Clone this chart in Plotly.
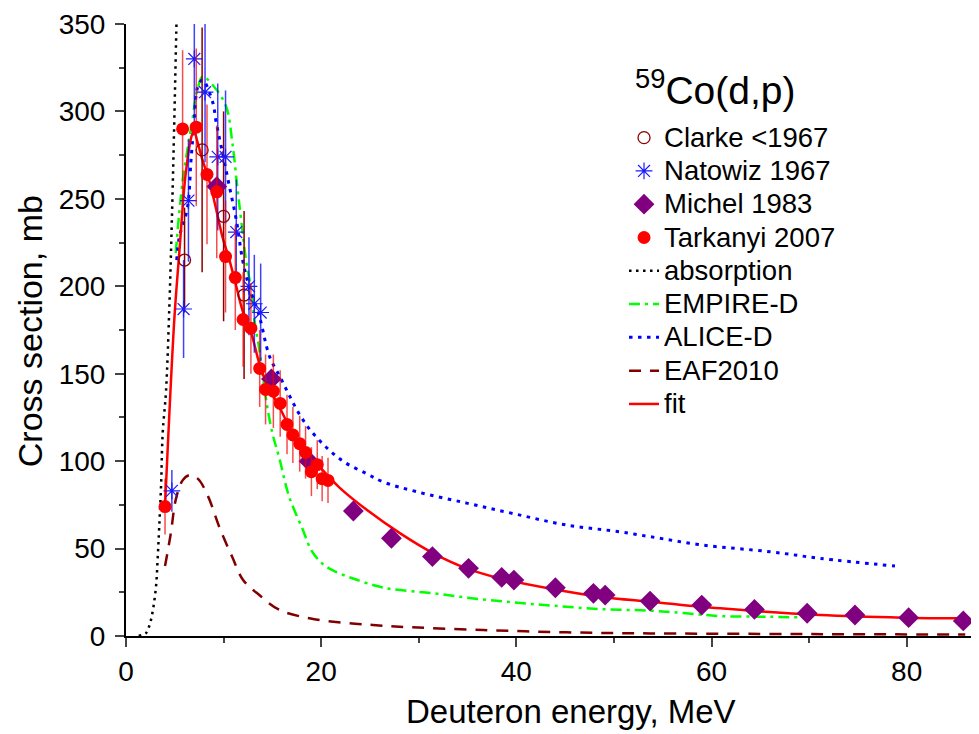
import plotly.graph_objects as go

# ---------------- data ----------------
clarke_E = [6.0, 7.8, 10.0, 12.1]
clarke_s = [215, 278, 240, 195]
clarke_err = [30, 70, 60, 48]

natowiz_E = [4.7, 5.9, 6.4, 7.0, 8.1, 9.4, 10.2, 11.3, 12.6, 13.15, 13.8]
natowiz_s = [83, 187, 249, 330, 311, 274, 274, 231, 200, 190, 185]
natowiz_err = [12, 28, 35, 40, 40, 42, 38, 30, 28, 28, 28]

michel_E = [9.3, 14.9, 18.75, 23.3, 27.2, 31.4, 35.1, 38.5, 39.75, 44.0, 47.9, 49.1,
            53.7, 59.0, 64.4, 69.8, 74.7, 80.2, 85.8]
michel_s = [257, 147, 100, 71.5, 55.9, 45.4, 38.7, 33.5, 32, 27.6, 24.4, 23.4,
            20.0, 17.7, 15.2, 13.0, 12.0, 10.5, 8.6]

tark_E = [4.0, 5.8, 7.2, 8.3, 9.3, 10.2, 11.2, 12.0, 12.8, 13.7, 14.3, 15.1, 15.8,
          16.5, 17.1, 17.8, 18.4, 19.0, 19.6, 20.1, 20.7]
tark_s = [74, 290, 291, 264, 254, 217, 205, 181, 176, 153, 141, 140, 133,
          121, 115, 110, 105, 94, 98, 90, 89]
tark_err = [16, 45, 45, 40, 38, 32, 30, 27, 26, 22, 20, 21, 19,
            17, 16, 16, 15, 14, 14, 13, 13]

abs_E = [1.3, 2.05, 2.4, 2.7, 3.07, 3.25, 3.4, 3.6, 3.76, 4.1, 4.44, 4.7, 4.95, 5.15, 5.3]
abs_s = [0, 1.7, 6, 13, 28, 45, 62, 87, 116, 140, 188, 238, 295, 345, 380]

emp_E = [5.1, 5.8, 6.8, 7.3, 7.85, 8.9, 10.25, 10.9, 11.4, 11.8, 12.3, 12.9, 13.15,
         13.66, 14.3, 15.0, 15.7, 16.7, 18.1, 19.0, 20.0, 21.2, 23.2, 25.4, 27.0, 31.5,
         35.6, 39.7, 43.8, 48.6, 53.7, 57.4, 60.9, 66.0, 70.3]
emp_s = [219, 260, 295, 312, 320, 315, 303, 282, 257, 238, 215, 196, 181,
         164, 137, 116, 102, 80, 61, 49, 42, 37.5, 33, 29, 27, 24.4,
         21.5, 19.2, 17.3, 15.4, 14.5, 13, 11.4, 11, 10.5]

ali_E = [5.2, 5.46, 6.3, 6.66, 7.0, 7.35, 7.85, 8.9, 9.2, 9.9, 10.6, 11.3, 11.95,
         12.6, 13.66, 14.7, 15.8, 16.7, 17.75, 19.0, 20.7, 22.5, 24.6, 26.4, 29.8,
         34.9, 39.7, 45.1, 50.6, 53.7, 59.1, 66.0, 71.1, 78.8]
ali_s = [215, 228, 245, 272, 295, 314, 318, 305, 295, 276, 257, 238, 215,
         200, 183, 160, 148, 138, 127, 117, 107, 99, 93, 88, 82.5,
         76, 70, 63.5, 59.6, 56.8, 52, 48.2, 44.4, 40]

eaf_E = [4.0, 4.6, 5.1, 5.8, 6.5, 7.35, 8.4, 9.55, 10.9, 12.0, 13.66, 15.7, 18.8,
         22.2, 25.3, 28.0, 36.6, 45.1, 53.7, 65.0, 75.0, 86.0]
eaf_s = [40, 59, 78, 89, 92, 90, 80, 62.5, 45, 32, 23.4, 15, 10.1,
         7.6, 6.3, 5.3, 3.4, 2.1, 1.5, 1.2, 1.0, 0.8]

fit_E = [4.0, 4.95, 5.46, 6.15, 6.8, 7.0, 7.35, 7.85, 8.5, 9.2, 9.9, 10.6, 11.3,
         11.95, 12.8, 13.7, 14.3, 15.7, 17.75, 19.8, 21.85, 24.7, 28.1, 31.5, 34.9,
         38.3, 43.4, 48.6, 53.7, 60.9, 71.1, 79.6, 85.8]
fit_s = [74, 181, 219, 266, 287, 288, 282, 272, 261, 245, 228, 215, 200,
         186, 174, 155, 146, 131, 110, 97, 85, 72, 58.7, 47.3, 38.7,
         33, 27.2, 22.5, 19.6, 15.8, 12, 10.5, 10.1]

x_ticks = [0, 20, 40, 60, 80]
y_ticks = [0, 50, 100, 150, 200, 250, 300, 350]

FONT = "Liberation Sans, Arial, sans-serif"


def lg(label):
    return "<span style='font-size:27.5px'>" + label + "</span>"


fig = go.Figure()

# curves
fig.add_trace(go.Scatter(x=abs_E, y=abs_s, mode="lines", name=lg("absorption"), legendrank=5,
                         line=dict(color="black", width=2.5, dash="2.5px,4.5px", shape="spline")))
fig.add_trace(go.Scatter(x=emp_E, y=emp_s, mode="lines", name=lg("EMPIRE-D"), legendrank=6,
                         line=dict(color="#00FF00", width=2.5, dash="11px,5px,3px,5px", shape="spline")))
fig.add_trace(go.Scatter(x=ali_E, y=ali_s, mode="lines", name=lg("ALICE-D"), legendrank=7,
                         line=dict(color="#0000FF", width=3, dash="3.5px,5.5px", shape="spline")))
fig.add_trace(go.Scatter(x=eaf_E, y=eaf_s, mode="lines", name=lg("EAF2010"), legendrank=8,
                         line=dict(color="#800000", width=2.5, dash="12px,9px", shape="spline")))
fig.add_trace(go.Scatter(x=fit_E, y=fit_s, mode="lines", name=lg("fit"), legendrank=9,
                         line=dict(color="#FF0000", width=2.5, shape="spline")))

# data
fig.add_trace(go.Scatter(x=clarke_E, y=clarke_s, mode="markers", name=lg("Clarke &lt;1967"), legendrank=1,
                         error_y=dict(type="data", array=clarke_err, color="#8B0000", thickness=1.5, width=0),
                         marker=dict(symbol="circle-open", size=12, color="#8B0000", line=dict(width=1.3))))
fig.add_trace(go.Scatter(x=natowiz_E, y=natowiz_s, mode="markers", name=lg("Natowiz 1967"), legendrank=2,
                         error_y=dict(type="data", array=natowiz_err, color="rgba(0,0,255,0.75)", thickness=1.5, width=0),
                         marker=dict(symbol="asterisk-open", size=14, color="#1a1aff", line=dict(width=1.2, color="#1a1aff"))))
fig.add_trace(go.Scatter(x=michel_E, y=michel_s, mode="markers", name=lg("Michel 1983"), legendrank=3,
                         marker=dict(symbol="diamond", size=16, color="#800080")))
fig.add_trace(go.Scatter(x=tark_E, y=tark_s, mode="markers", name=lg("Tarkanyi 2007"), legendrank=4,
                         error_y=dict(type="data", array=tark_err, color="rgba(240,0,0,0.7)", thickness=1.5, width=0),
                         marker=dict(symbol="circle", size=13, color="#FF0000")))

fig.add_annotation(text="<sup>59</sup>Co(d,p)", xref="paper", yref="paper", x=0.694, y=0.897,
                   xanchor="center", yanchor="middle",
                   showarrow=False, font=dict(family=FONT, size=39, color="black"))
# axis titles placed as in the reference
fig.add_annotation(text="Deuteron energy, MeV", xref="paper", yref="paper", x=0.5247, y=-0.124,
                   xanchor="center", yanchor="middle",
                   showarrow=False, font=dict(family=FONT, size=33, color="black"))
fig.add_annotation(text="Cross section, mb", xref="paper", yref="paper", x=-0.1131, y=0.498,
                   xanchor="center", yanchor="middle", textangle=-90,
                   showarrow=False, font=dict(family=FONT, size=34, color="black"))

# page body adds an 8px offset; size/margins compensate so the plot area lands where the reference has it
fig.update_layout(
    width=971, height=726,
    margin=dict(l=118, r=4, t=16, b=98),
    plot_bgcolor="white", paper_bgcolor="white",
    font=dict(family=FONT, color="black"),
    legend=dict(x=0.5866, y=0.8497, xanchor="left", yanchor="top", bgcolor="rgba(0,0,0,0)",
                font=dict(family=FONT, size=23.3), tracegroupgap=0, itemwidth=30),
    showlegend=True,
)
fig.update_xaxes(range=[0, 87], tickvals=x_ticks, ticks="outside", ticklen=9, tickwidth=2,
                 showline=True, linewidth=2, linecolor="black", showgrid=False, zeroline=False,
                 automargin=False,
                 minor=dict(dtick=10, tick0=0, ticks="outside", ticklen=5, tickwidth=2, showgrid=False),
                 tickfont=dict(size=28))
fig.update_yaxes(range=[0, 350], tickvals=y_ticks, ticks="outside", ticklen=9, tickwidth=2,
                 showline=True, linewidth=2, linecolor="black", showgrid=False, zeroline=False,
                 automargin=False, ticklabelstandoff=4,
                 minor=dict(dtick=25, tick0=0, ticks="outside", ticklen=5, tickwidth=2, showgrid=False),
                 tickfont=dict(size=28))

fig.write_html("out.html")
